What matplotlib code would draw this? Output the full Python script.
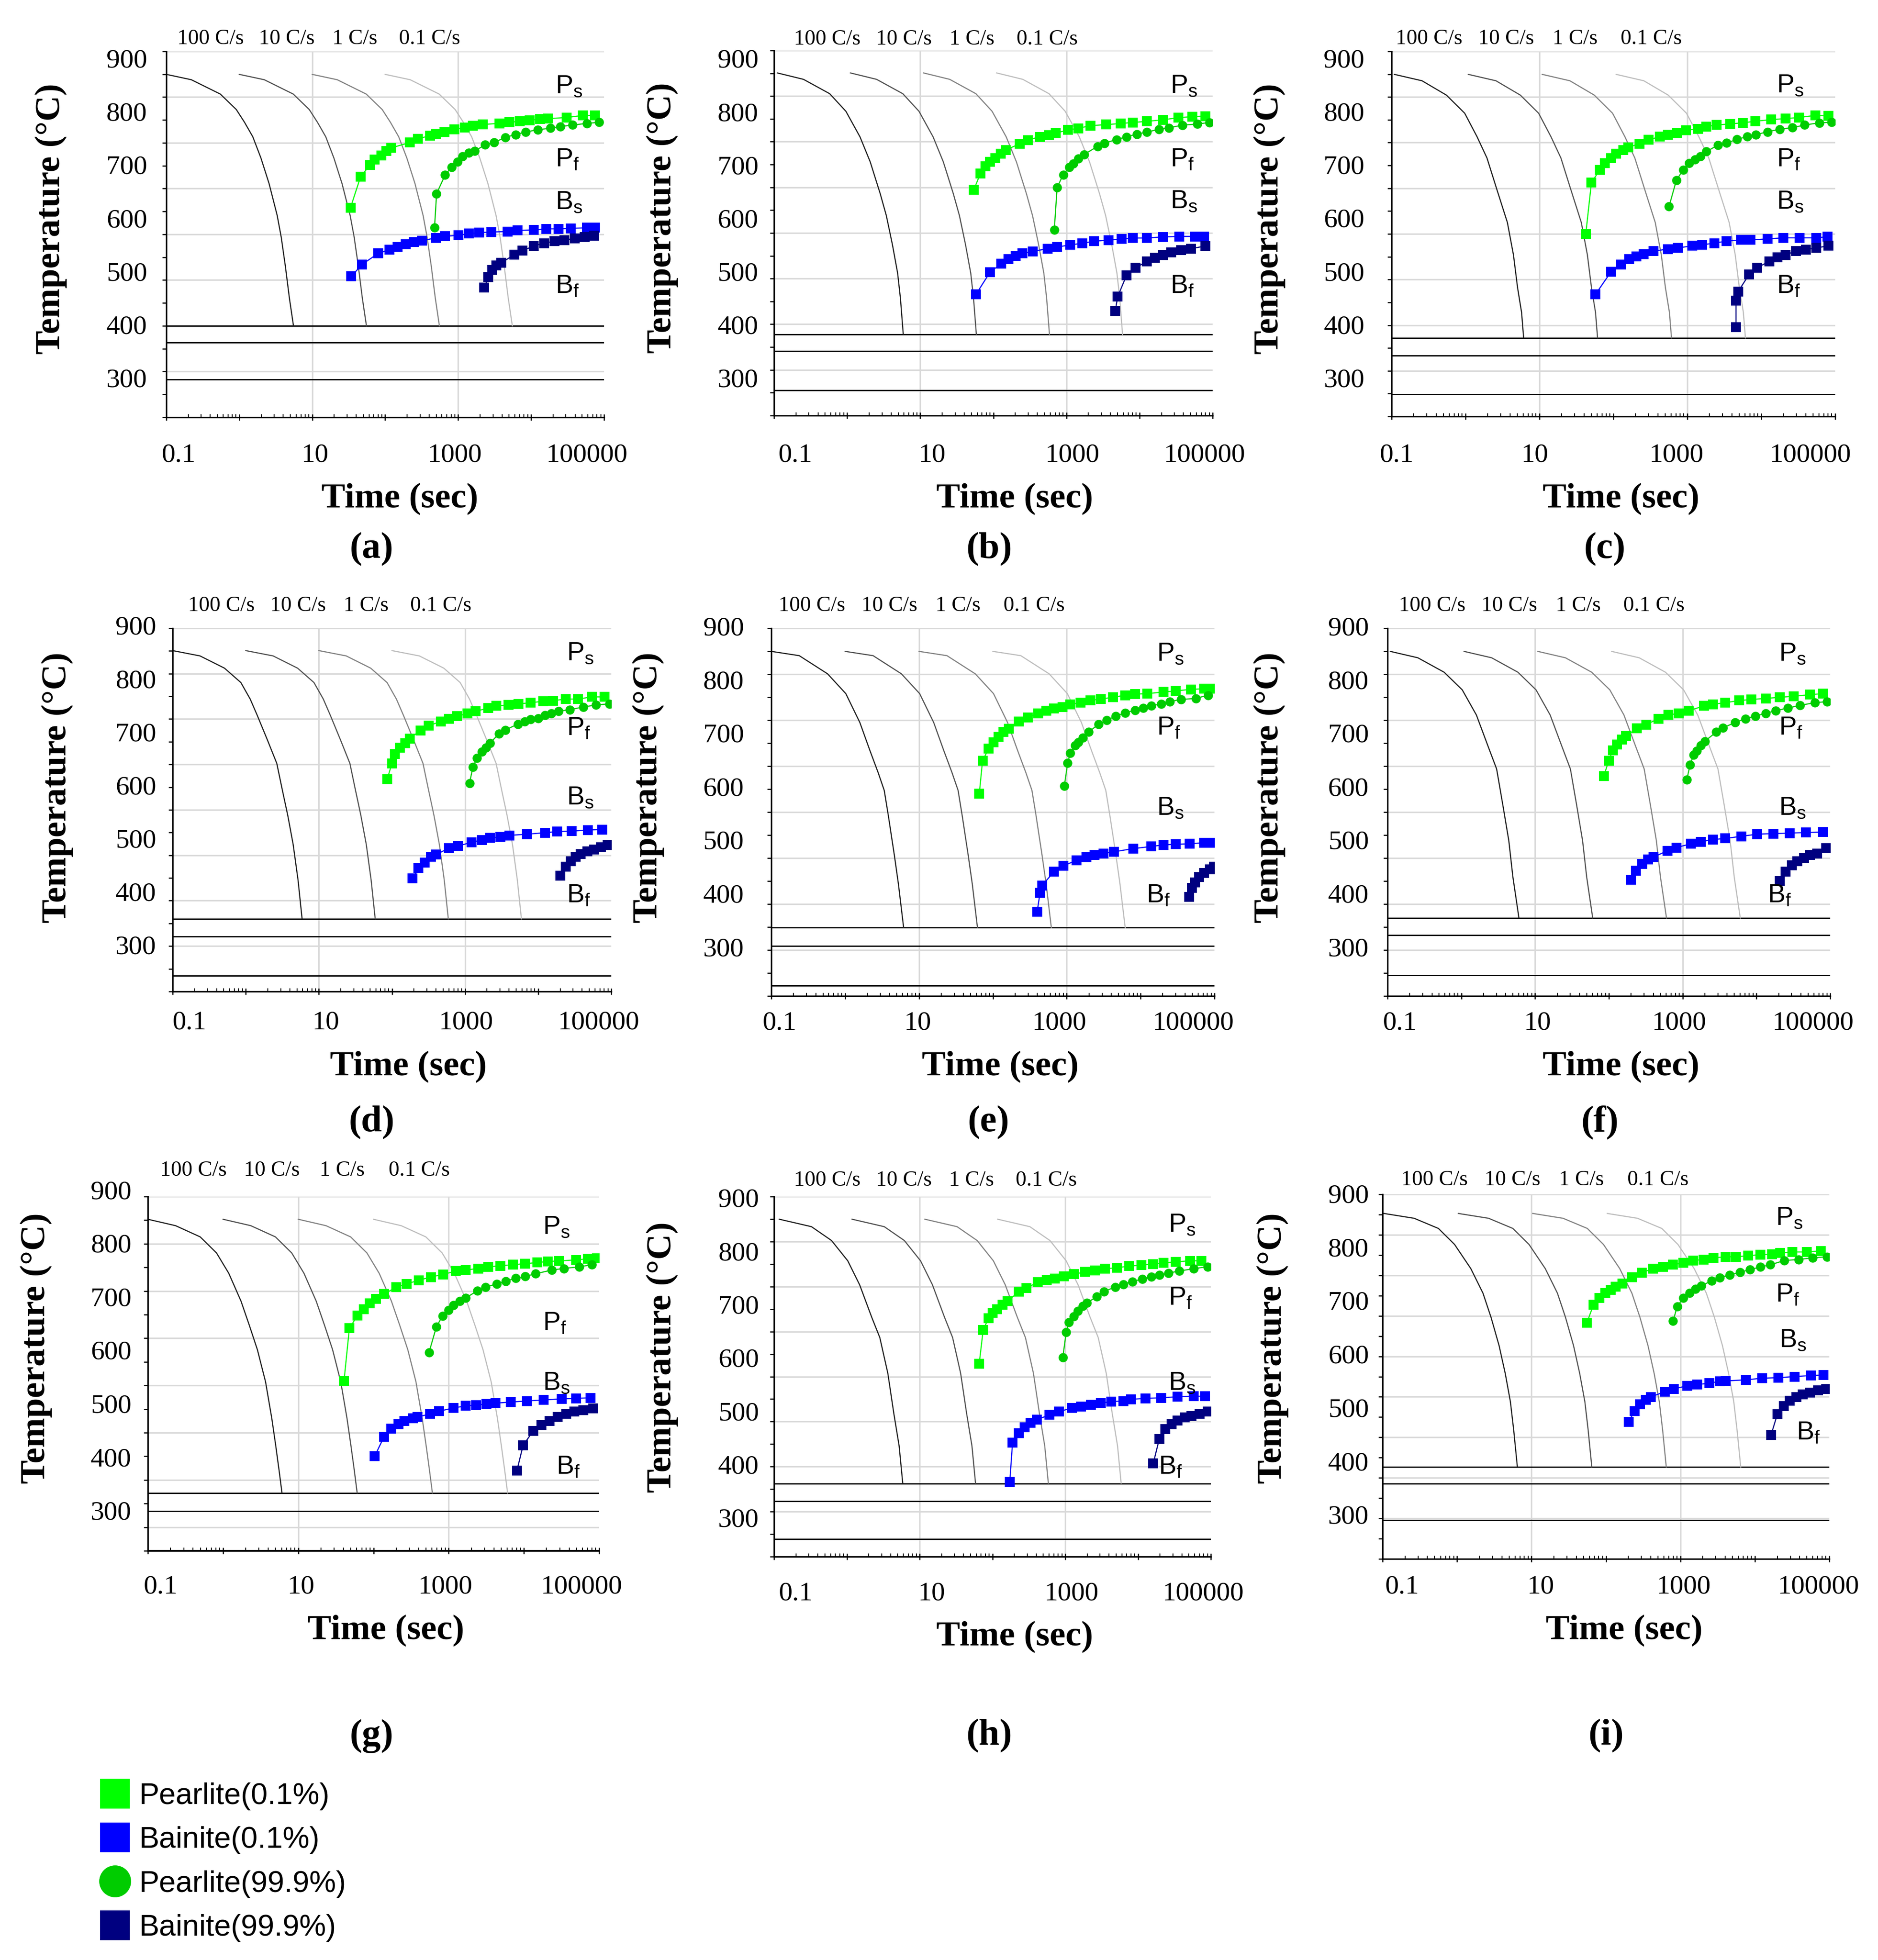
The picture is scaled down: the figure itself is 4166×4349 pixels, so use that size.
import matplotlib
matplotlib.use("Agg")
import matplotlib.pyplot as plt
import numpy as np
from matplotlib.lines import Line2D
from matplotlib.ticker import LogLocator, NullFormatter

plt.rcParams["font.family"] = ["Liberation Sans", "DejaVu Sans"]
SERIF = ["Liberation Serif", "DejaVu Serif"]

W, H, DPI = 4166, 4349, 300

# cooling rates (C/s); the cooling paths are stored for 100 C/s, slower rates take longer
RATES = [100, 10, 1, 0.1]
RATE_LABELS = ["100 C/s", "10 C/s", "1 C/s", "0.1 C/s"]
RATE_COLORS = ["#1e1e1e", "#505050", "#828282", "#bdbdbd"]
XTICK_VALUES = [0.1, 10, 1000, 100000]
XTICK_LABELS = ["0.1", "10", "1000", "100000"]
YTICK_VALUES = [300, 400, 500, 600, 700, 800, 900]
SERIES_LABELS = ["Pearlite(0.1%)", "Bainite(0.1%)", "Pearlite(99.9%)", "Bainite(99.9%)"]
TAG_TEXT = [r"P$_\mathregular{s}$", r"P$_\mathregular{f}$",
            r"B$_\mathregular{s}$", r"B$_\mathregular{f}$"]

# ---- panel (a)
A_COOL = [(0.1, 875), (0.22, 865), (0.55, 838), (0.91, 809), (1.18, 785), (1.53, 758), (1.98, 718),
          (2.56, 670), (3.31, 610), (3.76, 569), (4.28, 515), (4.86, 455), (5.53, 403)]
A_MS = [403, 372, 302]
A_PS = [(33.5, 625), (46, 683), (62, 705), (72, 715), (88, 723), (104, 731), (121, 737), (216, 747),
        (280, 754), (412, 760), (499, 763), (646, 767), (891, 772), (1230, 775), (1590, 779),
        (2190, 781), (3660, 783), (5060, 785), (6980, 787), (9620, 789), (13300, 791), (17200, 792),
        (30600, 794), (51200, 798), (75300, 798)]
A_PF = [(474, 587), (506, 651), (662, 686), (814, 701), (975, 711), (1150, 721), (1400, 728),
        (1690, 731), (2340, 743), (3100, 747), (4450, 757), (6140, 762), (8450, 767), (12400, 771),
        (18300, 774), (25200, 777), (37100, 780), (58200, 783), (85700, 785)]
A_BS = [(34.4, 496), (48, 518), (80, 539), (114, 546), (147, 551), (190, 556), (246, 560), (318, 563),
        (499, 568), (662, 571), (1010, 573), (1400, 576), (1930, 578), (2840, 579), (4740, 580),
        (6550, 582), (10900, 583), (16100, 585), (23700, 585), (34800, 586), (58200, 587), (75300, 587)]
A_BF = [(2280, 475), (2590, 494), (2940, 508), (3350, 516), (3910, 521), (5900, 537), (7640, 544),
        (10900, 553), (15100, 558), (20800, 562), (28700, 564), (39600, 567), (54600, 570), (73500, 572)]

# ---- panel (b)
B_COOL = [(0.111, 878), (0.253, 866), (0.578, 839), (0.962, 806), (1.50, 758), (2.07, 711), (2.84, 651),
          (3.44, 610), (4.16, 556), (4.91, 502), (5.36, 455), (5.86, 387)]
B_MS = [387, 356, 282]
B_PS = [(54.3, 659), (66.5, 689), (77.6, 703), (90.4, 711), (107, 718), (126, 726), (147, 733),
        (229, 745), (295, 752), (432, 758), (578, 761), (718, 765), (1050, 771), (1450, 774),
        (2120, 779), (3520, 781), (5500, 783), (8050, 785), (12600, 787), (20900, 790), (33900, 794),
        (53000, 796), (79600, 797)]
B_PF = [(682, 583), (746, 663), (904, 687), (1090, 701), (1240, 708), (1450, 717), (1750, 725),
        (2660, 740), (3300, 746), (4840, 753), (6650, 758), (9140, 763), (12600, 767), (18400, 772),
        (25300, 775), (38500, 780), (61700, 782), (90300, 785)]
B_BS = [(57.8, 462), (90.4, 504), (129, 520), (162, 528), (201, 534), (250, 539), (348, 543), (557, 548),
        (746, 551), (1120, 555), (1640, 558), (2400, 562), (3760, 564), (5710, 566), (8050, 568),
        (12600, 568), (20900, 570), (34800, 571), (57800, 571), (76600, 571)]
B_BF = [(4660, 431), (5030, 458), (6650, 498), (8810, 512), (12600, 524), (16200, 531), (20900, 536),
        (27000, 541), (37100, 545), (50900, 548), (79600, 553)]

# ---- panel (c)
C_COOL = [(0.109, 875), (0.258, 863), (0.552, 836), (0.975, 802), (1.43, 758), (1.95, 718), (2.68, 657),
          (3.68, 597), (4.45, 536), (5.05, 475), (5.73, 428), (6.11, 380)]
C_MS = [380, 347, 274]
C_PS = [(42.3, 575), (50.5, 672), (65.9, 696), (76.7, 708), (92.7, 718), (109, 726), (136, 733),
        (160, 738), (225, 745), (301, 752), (423, 758), (545, 762), (729, 765), (964, 770), (1410, 773),
        (1810, 777), (2490, 780), (3780, 782), (5660, 784), (8280, 787), (13700, 790), (21400, 792),
        (32400, 794), (53800, 798), (80700, 797)]
C_PF = [(566, 627), (711, 676), (881, 696), (1060, 708), (1270, 715), (1500, 721), (1810, 730),
        (2580, 742), (3410, 746), (4680, 753), (6430, 758), (8490, 762), (12100, 767), (17700, 772),
        (26500, 775), (38700, 780), (61100, 784), (89300, 785)]
C_BS = [(57.3, 462), (92.7, 504), (127, 518), (164, 528), (206, 533), (255, 537), (350, 543), (545, 547),
        (748, 549), (1160, 553), (1600, 555), (2330, 558), (3410, 562), (5310, 564), (7110, 564),
        (12100, 566), (20000, 568), (33200, 568), (55200, 568), (78700, 570)]
C_BF = [(4560, 400), (4560, 450), (4860, 467), (6840, 499), (8810, 512), (12900, 524), (16600, 531),
        (21400, 536), (29300, 543), (40200, 546), (55200, 549), (80700, 553)]

# ---- panel (d)
D_COOL = [(0.1, 858), (0.237, 848), (0.512, 825), (0.857, 798), (1.15, 767), (1.43, 737), (1.98, 690),
          (2.66, 646), (3.10, 602), (3.76, 548), (4.45, 494), (5.19, 427), (5.90, 354)]
D_MS = [354, 321, 247]
D_PS = [(85.7, 616), (100, 646), (109, 664), (129, 676), (153, 684), (174, 693), (246, 708), (318, 717),
        (468, 725), (605, 730), (783, 735), (1080, 740), (1400, 744), (2060, 750), (2660, 754),
        (3910, 756), (5400, 758), (7930, 760), (11700, 763), (16100, 764), (23700, 767), (34800, 767),
        (54600, 771), (80400, 771)]
D_PF = [(1150, 609), (1280, 639), (1450, 656), (1690, 668), (1930, 676), (2190, 684), (2910, 702),
        (3570, 709), (5260, 720), (6550, 725), (7930, 729), (10000, 731), (12400, 737), (15100, 740),
        (19000, 744), (26900, 747), (41200, 752), (62100, 756), (95100, 758)]
D_BS = [(190, 430), (231, 450), (280, 460), (340, 471), (401, 475), (605, 487), (804, 491), (1230, 498),
        (1690, 502), (2190, 506), (3020, 508), (4060, 511), (6980, 513), (12400, 516), (18300, 518),
        (28700, 519), (48100, 521), (75300, 522)]
D_BF = [(20000, 435), (23700, 452), (28000, 462), (32700, 471), (38100, 476), (46800, 481),
        (58200, 484), (72400, 489), (89100, 493)]

# ---- panel (e)
E_COOL = [(0.1, 858), (0.239, 850), (0.578, 816), (1.02, 779), (1.58, 725), (2.17, 672), (2.80, 631),
          (3.38, 598), (3.84, 551), (4.63, 477), (5.26, 423), (6.19, 341)]
E_MS = [341, 307, 233]
E_PS = [(65.5, 592), (72.4, 653), (87.5, 676), (102, 688), (120, 698), (140, 707), (164, 713),
        (225, 727), (298, 734), (408, 742), (526, 747), (676, 751), (871, 754), (1120, 759), (1530, 762),
        (2100, 766), (2880, 769), (4220, 772), (6150, 776), (8430, 778), (12300, 779), (20400, 782),
        (29800, 784), (48100, 787), (72100, 788), (92700, 788)]
E_PF = [(927, 606), (1030, 649), (1120, 668), (1300, 682), (1440, 688), (1640, 696), (1980, 707),
        (2710, 722), (3480, 729), (4600, 737), (6150, 743), (8430, 748), (10900, 752), (14000, 756),
        (19100, 760), (24700, 764), (35100, 768), (56000, 770), (81700, 776)]
E_BS = [(398, 371), (435, 406), (463, 420), (676, 446), (904, 457), (1360, 467), (1850, 473),
        (2390, 477), (3150, 480), (4380, 483), (7930, 489), (14000, 493), (20400, 496), (29800, 497),
        (46300, 498), (72100, 500), (92700, 500)]
E_BF = [(45200, 399), (49300, 416), (54600, 426), (61900, 436), (72100, 443), (87100, 450), (98800, 455)]

# ---- panel (f)
F_COOL = [(0.109, 858), (0.258, 846), (0.585, 819), (1.03, 786), (1.60, 739), (2.34, 678), (3.01, 638),
          (3.65, 571), (4.40, 504), (5.00, 436), (6.04, 359)]
F_MS = [359, 327, 252]
F_PS = [(85.5, 625), (99.3, 653), (113, 673), (128, 684), (151, 693), (171, 700), (240, 714),
        (321, 721), (469, 732), (643, 739), (881, 742), (1210, 747), (1950, 756), (2580, 759),
        (3760, 762), (5850, 766), (8550, 768), (13300, 770), (20700, 772), (32100, 774), (53200, 777),
        (79600, 779)]
F_PF = [(1140, 618), (1260, 646), (1410, 664), (1560, 672), (1770, 682), (2000, 690), (2850, 707),
        (3530, 715), (5150, 725), (7060, 732), (9680, 737), (13300, 742), (18200, 747), (26600, 752),
        (38800, 757), (61900, 762), (90400, 764)]
F_BS = [(199, 431), (234, 448), (283, 460), (342, 469), (403, 473), (619, 485), (828, 491), (1290, 498),
        (1770, 502), (2580, 506), (3760, 508), (6240, 512), (10300, 516), (17100, 517), (28300, 518),
        (46900, 519), (79600, 520)]
F_BF = [(20700, 428), (25000, 446), (30100, 458), (35600, 465), (44000, 471), (53200, 477),
        (66800, 480), (88100, 490)]

# ---- panel (g)
G_COOL = [(0.1, 850), (0.234, 838), (0.497, 817), (0.818, 787), (1.19, 749), (1.73, 697), (2.23, 652),
          (2.86, 606), (3.67, 546), (4.44, 478), (5.02, 426), (5.56, 380), (6.07, 338)]
G_MS = [338, 304, 231]
G_PS = [(40.6, 548), (47.8, 646), (61.4, 670), (74.1, 682), (89.3, 693), (108, 701), (138, 710),
        (201, 723), (275, 729), (401, 736), (583, 742), (849, 747), (1240, 753), (1690, 755),
        (2460, 758), (3370, 761), (4900, 763), (7130, 765), (10400, 767), (15100, 769), (20700, 771),
        (29300, 772), (49700, 774), (70500, 776), (92700, 777)]
G_PF = [(548, 601), (687, 649), (828, 669), (1000, 680), (1160, 689), (1400, 697), (1690, 703),
        (2400, 716), (3080, 723), (4330, 729), (5770, 734), (7780, 740), (10400, 743), (14200, 748),
        (23400, 755), (34100, 758), (54800, 761), (79800, 765)]
G_BS = [(104, 407), (138, 443), (173, 458), (215, 467), (259, 473), (333, 478), (386, 480), (569, 486),
        (750, 491), (1160, 497), (1690, 501), (2310, 502), (3160, 505), (4170, 506), (6700, 508),
        (11000, 510), (18200, 512), (32000, 514), (49700, 515), (76900, 516)]
G_BF = [(8090, 380), (9750, 427), (13300, 454), (17100, 465), (22000, 473), (28200, 480), (36300, 486),
        (46600, 490), (62100, 493), (83900, 496)]

# ---- panel (h)
H_COOL = [(0.118, 865), (0.327, 851), (0.617, 825), (1.03, 787), (1.50, 742), (2.20, 681), (2.84, 643),
          (3.66, 576), (4.43, 500), (5.23, 440), (5.86, 370)]
H_MS = [369, 336, 265]
H_PS = [(65.8, 594), (74.6, 657), (88.1, 679), (100, 689), (116, 696), (137, 705), (162, 711),
        (229, 729), (295, 736), (421, 747), (557, 751), (718, 754), (962, 758), (1310, 762),
        (1870, 766), (2560, 769), (3520, 772), (5160, 774), (7550, 777), (11100, 779), (16200, 781),
        (22300, 783), (32700, 785), (52200, 787), (74600, 787)]
H_PF = [(927, 606), (1030, 653), (1120, 672), (1310, 683), (1500, 693), (1750, 702), (1990, 708),
        (2730, 720), (3390, 729), (4840, 738), (6250, 743), (8370, 748), (11400, 753), (15200, 757),
        (19600, 760), (26300, 764), (37100, 768), (57800, 772), (90300, 776)]
H_BS = [(173, 372), (189, 446), (229, 464), (277, 475), (335, 483), (406, 489), (610, 498), (817, 504),
        (1240, 511), (1640, 514), (2260, 517), (3100, 520), (4270, 523), (6250, 524), (8050, 527),
        (12600, 529), (20900, 530), (34800, 532), (57800, 533), (82600, 533)]
H_BF = [(16200, 407), (19600, 453), (23800, 471), (28800, 481), (34800, 487), (43800, 493),
        (54300, 496), (70000, 500), (90300, 504)]

# ---- panel (i)
I_COOL = [(0.104, 868), (0.265, 859), (0.562, 840), (0.927, 810), (1.53, 765), (2.23, 719), (2.86, 674),
          (3.67, 621), (4.44, 569), (5.21, 516), (5.77, 463), (6.46, 394)]
I_MS = [394, 363, 295]
I_PS = [(55.6, 664), (67.9, 697), (81.8, 710), (97.5, 719), (115, 725), (135, 731), (167, 737),
        (223, 749), (301, 757), (427, 765), (583, 768), (798, 772), (1090, 776), (1490, 780),
        (2040, 782), (2790, 785), (4060, 787), (5560, 787), (8090, 789), (11800, 791), (17100, 792),
        (22000, 794), (32000, 796), (49700, 796), (76900, 798)]
I_PF = [(798, 667), (906, 694), (1090, 710), (1320, 719), (1590, 727), (1920, 733), (2620, 742),
        (3370, 748), (4600, 753), (6300, 758), (8610, 763), (11800, 768), (16100, 772), (24900, 780),
        (38600, 782), (59800, 785), (92700, 787)]
I_BS = [(201, 478), (243, 499), (286, 511), (345, 520), (401, 525), (621, 535), (819, 540), (1240, 546),
        (1690, 548), (2460, 551), (3370, 554), (4060, 555), (7590, 557), (12500, 560), (20700, 561),
        (34100, 563), (56200, 565), (83900, 566)]
I_BF = [(16500, 454), (20100, 493), (24300, 508), (29300, 518), (36300, 525), (43800, 530),
        (54800, 533), (70500, 537), (90600, 540)]

PANELS = [
    ("a", A_COOL, A_MS, A_PS, A_PF, A_BS, A_BF),
    ("b", B_COOL, B_MS, B_PS, B_PF, B_BS, B_BF),
    ("c", C_COOL, C_MS, C_PS, C_PF, C_BS, C_BF),
    ("d", D_COOL, D_MS, D_PS, D_PF, D_BS, D_BF),
    ("e", E_COOL, E_MS, E_PS, E_PF, E_BS, E_BF),
    ("f", F_COOL, F_MS, F_PS, F_PF, F_BS, F_BF),
    ("g", G_COOL, G_MS, G_PS, G_PF, G_BS, G_BF),
    ("h", H_COOL, H_MS, H_PS, H_PF, H_BS, H_BF),
    ("i", I_COOL, I_MS, I_PS, I_PF, I_BS, I_BF),
]

# layout of each panel in figure pixels: axes box (left, right, top, bottom), y range,
# number of grid intervals, tick-label paddings (pt), label shift (decades), text centres
LAYOUT = {
    "a": dict(box=(369, 1340, 114, 926), ylim=(231.2, 918.2), ngrid=8, ypad=10.2, xoff=20.3, roff=6.7,
              shift=-0.03, ylab=(113, 486), xlab=(887, 1108), letter=(824, 1219),
              tags=[(21400, 853), (21400, 715), (21400, 635), (21400, 477)]),
    "b": dict(box=(1717, 2690, 112, 922), ylim=(234.6, 920.2), ngrid=8, ypad=8.4, xoff=21.2, roff=6.1,
              shift=0.095, ylab=(1469, 484), xlab=(2251, 1108), letter=(2194, 1219),
              tags=[(26300, 854), (26300, 715), (26300, 637), (26300, 477)]),
    "c": dict(box=(3087, 4071, 114, 924), ylim=(232.6, 918.2), ngrid=8, ypad=14.4, xoff=20.7, roff=6.7,
              shift=-0.13, ylab=(2816, 486), xlab=(3596, 1108), letter=(3560, 1219),
              tags=[(16200, 854), (16200, 715), (16200, 636), (16200, 477)]),
    "d": dict(box=(383, 1356, 1394, 2200), ylim=(217.7, 900.0), ngrid=8, ypad=8.7, xoff=16.8, roff=12,
              shift=0.03, ylab=(127, 1748), xlab=(906, 2368), letter=(824, 2491),
              tags=[(24500, 853), (24500, 712), (24500, 582), (24500, 398)]),
    "e": dict(box=(1711, 2694, 1394, 2210), ylim=(213.2, 901.3), ngrid=8, ypad=14.6, xoff=14.5, roff=12,
              shift=-0.085, ylab=(1438, 1748), xlab=(2219, 2368), letter=(2193, 2491),
              tags=[(16600, 854), (16600, 715), (16600, 565), (12000, 401)]),
    "f": dict(box=(3078, 4060, 1394, 2210), ylim=(213.2, 901.3), ngrid=8, ypad=10.0, xoff=14.5, roff=12,
              shift=-0.03, ylab=(2816, 1748), xlab=(3596, 2368), letter=(3549, 2491),
              tags=[(20000, 854), (20000, 715), (20000, 565), (14100, 401)]),
    "g": dict(box=(328, 1329, 2655, 3441), ylim=(229.8, 892.5), ngrid=7.5, ypad=8.7, xoff=19.3, roff=13.9,
              shift=-0.03, ylab=(80, 2992), xlab=(856, 3619), letter=(824, 3852),
              tags=[(17800, 836), (17800, 655), (17800, 544), (26900, 386)]),
    "h": dict(box=(1717, 2686, 2655, 3454), ylim=(232.1, 907.5), ngrid=8, ypad=8.0, xoff=19.9, roff=8.6,
              shift=0.10, ylab=(1469, 3012), xlab=(2251, 3633), letter=(2194, 3852),
              tags=[(26300, 855), (26300, 717), (26300, 558), (19100, 400)]),
    "i": dict(box=(3067, 4058, 2650, 3459), ylim=(222.3, 903.8), ngrid=9, ypad=7.3, xoff=15.0, roff=7.6,
              shift=0.06, ylab=(2823, 2992), xlab=(3603, 3619), letter=(3563, 3852),
              tags=[(19100, 860), (19100, 716), (21400, 631), (36300, 458)]),
}

XLABEL_SHIFT = [0.2, 0.066, -0.014, -0.203]
RATE_LABEL_TIMES = [0.43, 4.8, 41, 437]

STYLES = [  # Ps, Pf, Bs, Bf
    dict(color="#00ff00", marker="s", ms=5.3),
    dict(color="#00cc00", marker="o", ms=4.9),
    dict(color="#0000ff", marker="s", ms=5.3),
    dict(color="#000080", marker="s", ms=5.3),
]
GRID_COLOR = "#d9d9d9"


def fx(px):
    return px / W


def fy(py):
    return 1 - py / H


fig = plt.figure(figsize=(W / DPI, H / DPI), dpi=DPI)

for name, cool, ms_lines, ps, pf, bs, bf in PANELS:
    lay = LAYOUT[name]
    L, R, T, B = lay["box"]
    ax = fig.add_axes([fx(L), fy(B), fx(R) - fx(L), fy(T) - fy(B)])
    ax.set_xscale("log")
    ax.set_xlim(0.1, 1e5)
    ylo, yhi = lay["ylim"]
    ax.set_ylim(ylo, yhi)

    # gridlines (the plotted grid does not line up with the typed-on labels)
    step = (yhi - ylo) / lay["ngrid"]
    k = 0
    while yhi - k * step > ylo + 1:
        ax.axhline(yhi - k * step, color=GRID_COLOR, lw=0.8, zorder=0)
        k += 1
    for xv in (10, 1000):
        ax.axvline(xv, color=GRID_COLOR, lw=0.8, zorder=0)

    # martensite lines
    for yv in ms_lines:
        ax.axhline(yv, color="black", lw=0.7, zorder=1)

    # cooling curves
    ct, cT = zip(*cool)
    for rate, col in zip(RATES, RATE_COLORS):
        ax.plot(np.array(ct) * (100 / rate), cT, color=col, lw=0.6, zorder=2)

    # transformation start / finish curves
    for pts, st in zip([ps, pf, bs, bf], STYLES):
        t, temp = zip(*pts)
        ax.plot(t, temp, color=st["color"], lw=0.6, marker=st["marker"], ms=st["ms"],
                mew=0, zorder=3)

    # axes styling
    for side in ("top", "right"):
        ax.spines[side].set_visible(False)
    for side in ("left", "bottom"):
        ax.spines[side].set_linewidth(0.8)
    n_ticks = int(round(2 * lay["ngrid"]))
    ax.set_yticks([yhi - j * step / 2 for j in range(n_ticks + 1)])
    ax.set_yticklabels([])
    ax.tick_params(axis="y", direction="out", length=2.2, width=0.6)
    ax.xaxis.set_major_locator(LogLocator(base=10, numticks=20))
    ax.xaxis.set_minor_locator(LogLocator(base=10, subs=np.arange(2, 10), numticks=20))
    ax.xaxis.set_major_formatter(NullFormatter())
    ax.xaxis.set_minor_formatter(NullFormatter())
    ax.tick_params(axis="x", which="major", direction="inout", length=3.5, width=0.6)
    ax.tick_params(axis="x", which="minor", direction="in", length=1.7, width=0.5)

    # typed-on tick labels
    for yv in YTICK_VALUES:
        ax.annotate(str(yv), xy=(0, yv), xycoords=("axes fraction", "data"),
                    xytext=(-lay["ypad"], 0), textcoords="offset points", ha="right", va="center",
                    fontsize=14.5, family=SERIF, annotation_clip=False)
    for xv, lab, sh in zip(XTICK_VALUES, XTICK_LABELS, XLABEL_SHIFT):
        ax.annotate(lab, xy=(xv * 10 ** (sh + lay["shift"]), 0), xycoords=("data", "axes fraction"),
                    xytext=(0, -lay["xoff"]), textcoords="offset points", ha="center", va="center",
                    fontsize=14.5, family=SERIF, annotation_clip=False)
    for tv, lab in zip(RATE_LABEL_TIMES, RATE_LABELS):
        ax.annotate(lab, xy=(tv * 10 ** lay["shift"], 1), xycoords=("data", "axes fraction"),
                    xytext=(0, lay["roff"]), textcoords="offset points", ha="center", va="center",
                    fontsize=11.5, family=SERIF, annotation_clip=False)
    for (tx, ty), lab in zip(lay["tags"], TAG_TEXT):
        ax.text(tx, ty, lab, ha="left", va="center", fontsize=14, zorder=4)

    fig.text(fx(lay["ylab"][0]), fy(lay["ylab"][1]), "Temperature (°C)", rotation=90,
             ha="center", va="center", fontsize=19, fontweight="bold", family=SERIF)
    fig.text(fx(lay["xlab"][0]), fy(lay["xlab"][1]), "Time (sec)", ha="center", va="center",
             fontsize=19, fontweight="bold", family=SERIF)
    fig.text(fx(lay["letter"][0]), fy(lay["letter"][1]), f"({name})", ha="center", va="center",
             fontsize=20, fontweight="bold", family=SERIF)

handles = [Line2D([], [], ls="none", marker=st["marker"], color=st["color"], mew=0,
                  ms=16 if st["marker"] == "s" else 17)
           for st in (STYLES[0], STYLES[2], STYLES[1], STYLES[3])]
fig.legend(handles, SERIES_LABELS, loc="upper left", bbox_to_anchor=(fx(222), fy(3955)),
           frameon=False, prop={"family": "Liberation Sans", "size": 16}, handlelength=1.0,
           handletextpad=0.3, labelspacing=0.53, borderpad=0, borderaxespad=0)

fig.savefig("out.png", dpi=DPI, facecolor="white")
